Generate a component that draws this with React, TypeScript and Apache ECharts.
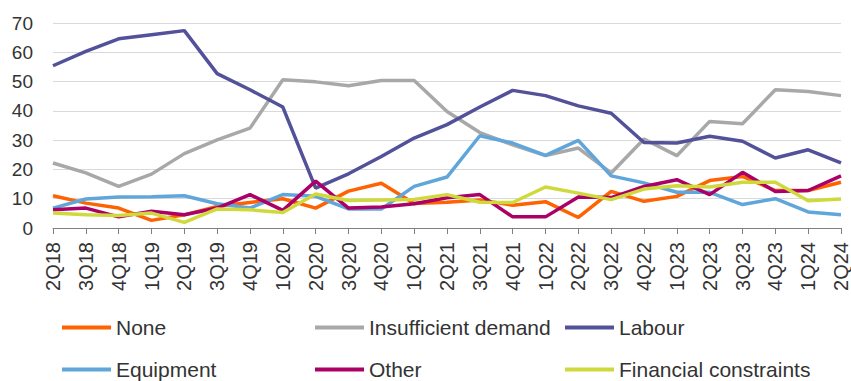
import React, { useEffect, useRef } from "react";
import * as echarts from "echarts";

const categories = ["2Q18","3Q18","4Q18","1Q19","2Q19","3Q19","4Q19","1Q20","2Q20","3Q20","4Q20","1Q21","2Q21","3Q21","4Q21","1Q22","2Q22","3Q22","4Q22","1Q23","2Q23","3Q23","4Q23","1Q24","2Q24"];

const none = [11, 8.5, 6.8, 2.6, 4.5, 7.4, 8.7, 10, 6.8, 12.6, 15.3, 8.4, 8.8, 9.6, 7.8, 9, 3.6, 12.5, 9.1, 10.8, 16.2, 17.6, 12.8, 12.8, 15.6];
const insufficientDemand = [22.2, 18.8, 14.2, 18.4, 25.4, 30.1, 34.1, 50.6, 49.9, 48.6, 50.4, 50.4, 39.8, 32.6, 28.4, 24.7, 27.3, 18.8, 30.4, 24.7, 36.4, 35.6, 47.2, 46.6, 45.2];
const labour = [55.4, 60.3, 64.6, 66, 67.4, 52.7, 47.2, 41.3, 13.6, 18.5, 24.4, 30.7, 35.3, 41.3, 47, 45.2, 41.7, 39.2, 29.2, 29, 31.3, 29.6, 23.9, 26.7, 22.2];
const equipment = [6.8, 9.9, 10.6, 10.7, 11, 8.3, 6.8, 11.4, 10.8, 6.5, 6.5, 14.2, 17.4, 31.5, 29, 24.8, 29.9, 17.8, 15.4, 12.2, 12.2, 8, 10, 5.5, 4.5];
const other = [6.2, 6.8, 3.8, 5.7, 4.5, 6.8, 11.4, 6, 16, 6.8, 7.2, 8.3, 10.3, 11.4, 3.8, 3.8, 10.6, 10.4, 14.2, 16.5, 11.4, 19, 12.5, 12.8, 17.8];
const financialConstraints = [5.1, 4.5, 4.3, 5.1, 1.9, 6.5, 6.2, 5.3, 11.6, 9.4, 9.6, 9.7, 11.4, 8.8, 8.7, 14, 11.9, 9.7, 13.3, 14.4, 14, 15.6, 15.6, 9.3, 9.9];

const yTicks = [0, 10, 20, 30, 40, 50, 60, 70];

const seriesDefs = [
  { name: "None", data: none, color: "#FF6200" },
  { name: "Insufficient demand", data: insufficientDemand, color: "#A8A8A8" },
  { name: "Labour", data: labour, color: "#525199" },
  { name: "Equipment", data: equipment, color: "#60A6DA" },
  { name: "Other", data: other, color: "#AB0066" },
  { name: "Financial constraints", data: financialConstraints, color: "#D0D93C" },
];

const FONT = "Liberation Sans";

export default function App() {
  const ref = useRef<HTMLDivElement>(null);
  useEffect(() => {
    const chart = echarts.init(ref.current!, null, { renderer: "svg" });
    const legendBase = {
      orient: "vertical" as const,
      top: 317,
      itemWidth: 49,
      itemHeight: 4,
      itemGap: 21,
      icon: "rect",
      textStyle: { fontFamily: FONT, fontSize: 21, color: "#333", lineHeight: 21 },
      padding: 0,
    };
    chart.setOption({
      animation: false,
      grid: { left: 53, right: 6, top: 23, bottom: 153, containLabel: false },
      legend: [
        { ...legendBase, left: 62, data: ["None", "Equipment"] },
        { ...legendBase, left: 315, data: ["Insufficient demand", "Other"] },
        { ...legendBase, left: 565, data: ["Labour", "Financial constraints"] },
      ],
      xAxis: {
        type: "category",
        data: categories,
        boundaryGap: false,
        axisLine: { lineStyle: { color: "#808080", width: 1 } },
        axisTick: { show: true, length: 6, lineStyle: { color: "#808080" }, alignWithLabel: true },
        axisLabel: { rotate: 90, interval: 0, fontFamily: FONT, fontSize: 20, color: "#333", margin: 14 },
      },
      yAxis: {
        type: "value",
        min: yTicks[0],
        max: yTicks[yTicks.length - 1],
        interval: 10,
        axisLine: { show: false },
        axisTick: { show: false },
        splitLine: { lineStyle: { color: "#D9D9D9", width: 1 } },
        axisLabel: { fontFamily: FONT, fontSize: 19, color: "#333", margin: 20 },
      },
      series: seriesDefs.map((s) => ({
        name: s.name,
        type: "line",
        data: s.data,
        symbol: "none",
        color: s.color,
        lineStyle: { width: 3.5, color: s.color },
      })),
    });
    return () => chart.dispose();
  }, []);
  return <div ref={ref} style={{ width: 851, height: 381, position: "absolute", left: 0, top: 0 }} />;
}
